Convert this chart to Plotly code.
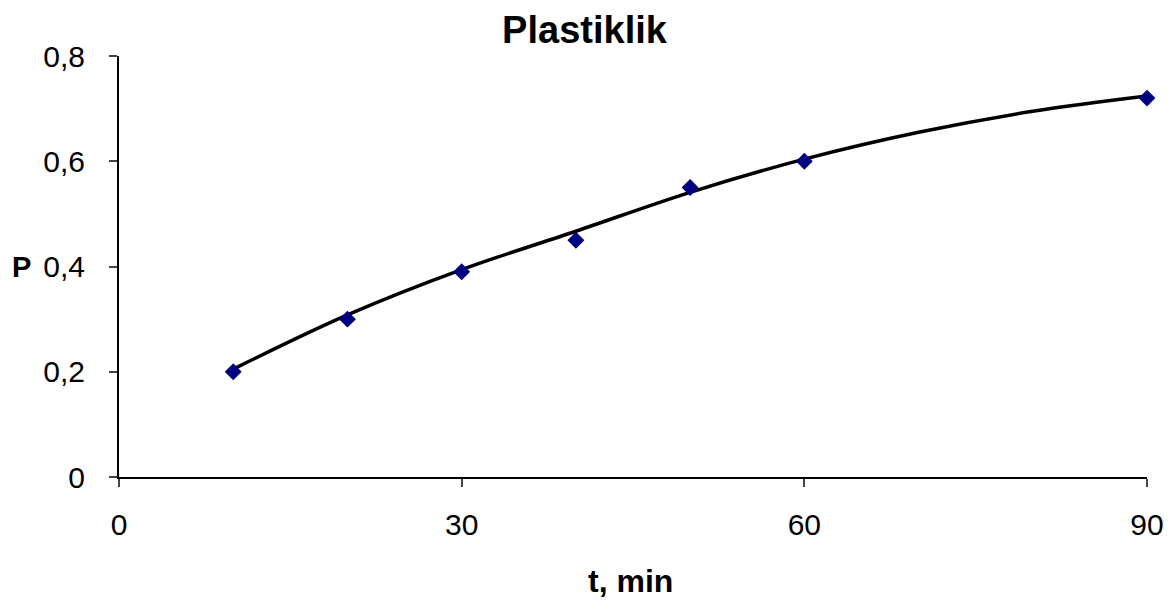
import plotly.graph_objects as go

# measured points
t_min = [10, 20, 30, 40, 50, 60, 90]
p_val = [0.20, 0.30, 0.39, 0.45, 0.55, 0.60, 0.72]

# trend line
trend_t = [10, 20, 30, 40, 50, 60, 70, 80, 90]
trend_p = [0.205, 0.308, 0.394, 0.467, 0.541, 0.604, 0.655, 0.695, 0.724]

x_ticks = [0, 30, 60, 90]
y_ticks = [0, 0.2, 0.4, 0.6, 0.8]
y_labels = ["0", "0,2", "0,4", "0,6", "0,8"]

fig = go.Figure()
fig.add_trace(go.Scatter(x=trend_t, y=trend_p, mode="lines", line_shape="spline",
                         line=dict(color="black", width=3.5), hoverinfo="skip"))
fig.add_trace(go.Scatter(x=t_min, y=p_val, mode="markers", cliponaxis=False,
                         marker=dict(symbol="diamond", size=13, color="#000080")))

fig.update_xaxes(
        range=[0, 90], tickvals=x_ticks, ticks="outside", ticklen=8, tickwidth=2,
        showline=True, linecolor="black", linewidth=2, showgrid=False, zeroline=False,
        tickfont={"size": 30, "color": "black"}, ticklabelstandoff=12, automargin=False)
fig.update_yaxes(
        range=[0, 0.8], tickvals=y_ticks, ticktext=y_labels, ticks="outside", ticklen=8, tickwidth=2,
        showline=True, linecolor="black", linewidth=2, showgrid=False, zeroline=False,
        tickfont={"size": 30, "color": "black"}, ticklabelstandoff=18, automargin=False)

# axis titles placed by hand like the original
fig.add_annotation(text="<b>P</b>", x=0, y=0.4, xref="paper", yref="y", xanchor="right",
                   xshift=-86, showarrow=False, font={"size": 29, "color": "black"})
fig.add_annotation(text="<b>t, min</b>", x=0.5, y=0, xref="paper", yref="paper",
                   yanchor="middle", yshift=-104, xshift=-3, showarrow=False,
                   font={"size": 32, "color": "black"})

fig.update_layout(
    title_text="<b>Plastiklik</b>", title_x=0.5, title_xanchor="center",
    title_y=1 - 30 / 601, title_yanchor="middle",
    title_font={"size": 38, "color": "black"},
    font_family="Liberation Sans", font_color="black",
    width=1169, height=601, showlegend=False,
    plot_bgcolor="white", paper_bgcolor="white",
    margin=dict(l=119, r=22, t=56, b=124, autoexpand=False))

# drop the default page margin so the figure fills the window exactly
fig.write_html("out.html", config={"displayModeBar": False},
               post_script="document.body.style.margin='0';document.body.style.overflow='hidden';")
